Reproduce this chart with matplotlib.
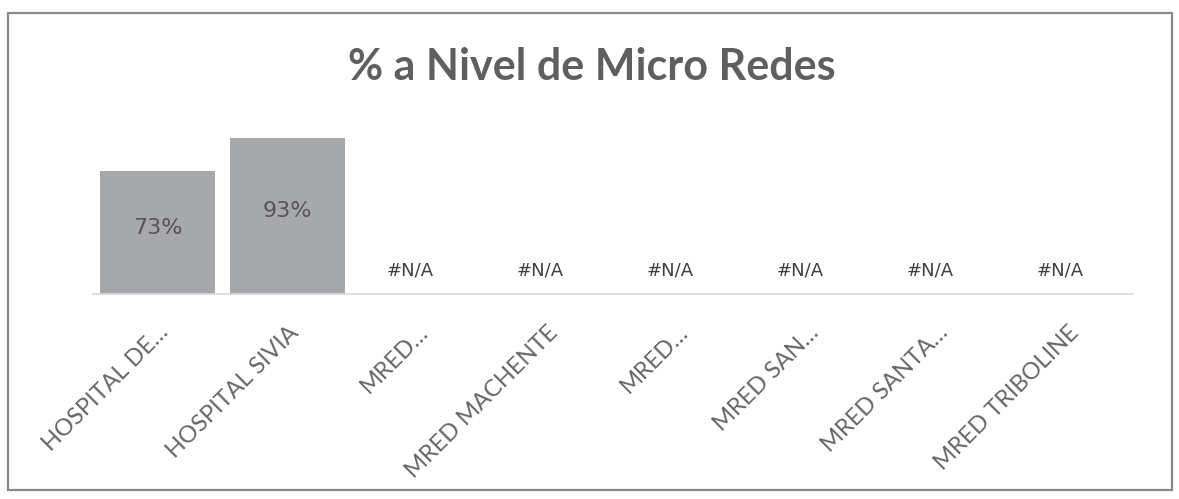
import numpy as np
import matplotlib
matplotlib.use("Agg")
import matplotlib.pyplot as plt
from matplotlib.patches import Rectangle

# data
categories = ["HOSPITAL DE\u2026", "HOSPITAL SIVIA", "MRED\u2026", "MRED MACHENTE",
              "MRED\u2026", "MRED SAN\u2026", "MRED SANTA\u2026", "MRED TRIBOLINE"]
values = [0.73, 0.93, None, None, None, None, None, None]
title = "% a Nivel de Micro Redes"

W, H = 1179, 499
fig = plt.figure(figsize=(W / 100, H / 100), dpi=100)
fig.patch.set_facecolor("white")

# outer chart frame
fig.add_artist(Rectangle((8 / W, 1 - 490 / H), 1164 / W, 477 / H,
                         transform=fig.transFigure, fill=False,
                         edgecolor="#8a8a8a", linewidth=1.6))

fig.text(592 / W, 1 - 67 / H, title, ha="center", va="center",
         fontsize=31, fontweight="bold", color="#5f5f5f", family="Lato")

ax = fig.add_axes([92.5 / W, 1 - 294 / H, 1040 / W, 168 / H])
x = np.arange(len(categories))
heights = [v if v is not None else 0 for v in values]
ax.bar(x, heights, width=0.885, color="#a7a8ac", edgecolor="none")

for xi, v in zip(x, values):
    if v is None:
        ax.annotate("#N/A", (xi, 0.14), xytext=(-5, 0), textcoords="offset points",
                    ha="center", va="center", fontsize=13, color="#404040",
                    family="DejaVu Sans")
    else:
        ax.text(xi, v / 2 + 0.03, f"{v:.0%}", ha="center", va="center",
                fontsize=16, color="#555555", family="DejaVu Sans")

ax.set_xlim(-0.5, len(categories) - 0.5)
ax.set_ylim(0, 1)
ax.set_yticks([])
ax.set_xticks(x)
ax.set_xticklabels(categories, rotation=45, ha="right", va="top",
                   rotation_mode="anchor", fontsize=17, color="#666666",
                   family="Lato")
ax.tick_params(axis="x", length=0, pad=20)
for side in ["top", "left", "right"]:
    ax.spines[side].set_visible(False)
ax.spines["bottom"].set_color("#d9d9d9")
ax.spines["bottom"].set_linewidth(1.2)
ax.set_facecolor("none")

fig.savefig("out.png", dpi=100)
